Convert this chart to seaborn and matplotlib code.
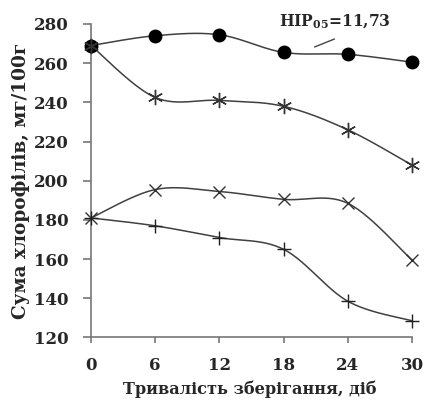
import numpy as np
import matplotlib
matplotlib.use("Agg")
import matplotlib.pyplot as plt
import seaborn as sns
import pandas as pd

days = [0, 6, 12, 18, 24, 30]
series_circle = [269, 274, 274.5, 265.5, 264.5, 260.5]
series_aster = [269, 242.5, 241, 238, 226, 208]
series_x = [181, 195.5, 194.5, 190.5, 188.5, 159.5]
series_plus = [181, 177, 171, 165, 138.5, 128.5]
yticks = [120, 140, 160, 180, 200, 220, 240, 260, 280]
xticks = days
note = "НІР"

sns.set_theme(style="white")
plt.rcParams['font.family'] = ['DejaVu Serif', 'Liberation Serif']
plt.rcParams['font.weight'] = 'bold'
plt.rcParams['mathtext.fontset'] = 'custom'
plt.rcParams['mathtext.rm'] = 'DejaVu Serif:bold'
plt.rcParams['mathtext.bf'] = 'DejaVu Serif:bold'

def smooth(x, y, n=30):
    x = np.asarray(x, float); y = np.asarray(y, float)
    px = np.concatenate([[x[0]], x, [x[-1]]])
    py = np.concatenate([[y[0]], y, [y[-1]]])
    xs, ys = [], []
    t = 0.5
    for i in range(1, len(px) - 2):
        p0 = np.array([px[i-1], py[i-1]]); p1 = np.array([px[i], py[i]])
        p2 = np.array([px[i+1], py[i+1]]); p3 = np.array([px[i+2], py[i+2]])
        c1 = p1 + (p2 - p0) * t / 3
        c2 = p2 - (p3 - p1) * t / 3
        s = np.linspace(0, 1, n)[:, None]
        b = (1-s)**3 * p1 + 3*(1-s)**2*s*c1 + 3*(1-s)*s**2*c2 + s**3*p2
        xs.extend(b[:, 0]); ys.extend(b[:, 1])
    return np.array(xs), np.array(ys)

fig = plt.figure(figsize=(4.25, 4.01), dpi=100)
ax = fig.add_axes([0.2141, 0.1584, 0.7553, 0.7818])

lc = '#404040'
specs = [
    (series_circle, dict(marker='o', markersize=9, markerfacecolor='black', markeredgecolor='black')),
    (series_aster, dict(marker=(6, 2, 0), markersize=11, markeredgecolor='#333333', markeredgewidth=1)),
    (series_x, dict(marker='x', markersize=9, markeredgecolor='#333333', markeredgewidth=1)),
    (series_plus, dict(marker='+', markersize=10, markeredgecolor='#222222', markeredgewidth=1)),
]
for vals, mk in specs:
    sx, sy = smooth(days, vals)
    sns.lineplot(x=sx, y=sy, ax=ax, color=lc, linewidth=1.1, sort=False, estimator=None)
    ax.plot(days, vals, linestyle='none', clip_on=False, zorder=5, **mk)

ax.set_xlim(0, 30)
ax.set_ylim(120, 280)
ax.set_xticks(xticks)
ax.set_yticks(yticks)
ax.set_xticklabels([str(v) for v in xticks], fontsize=12, fontweight='bold')
ax.set_yticklabels([str(v) for v in yticks], fontsize=12, fontweight='bold')
for s in ['top', 'right']:
    ax.spines[s].set_visible(False)
for s in ['left', 'bottom']:
    ax.spines[s].set_color('#777777')
    ax.spines[s].set_linewidth(1.2)
ax.tick_params(axis='x', direction='out', length=4.5, width=1.2, color='#777777', pad=9.5, bottom=True)
ax.tick_params(axis='y', direction='out', length=5.5, width=1.2, color='#777777', pad=10.5, left=True)
ax.set_xlabel('Тривалість зберігання, діб', fontsize=11.6, fontweight='bold', ha='left')
ax.set_ylabel('Сума хлорофілів, мг/100г', fontsize=13.3, fontweight='bold', labelpad=3)
ax.xaxis.set_label_coords((123 - 91) / 321, -(381 - 337.5) / 313.5)

fig.text(279/425, 1 - 21.5/401, note + r'$_{05}$=11,73', fontsize=11.2, fontweight='bold', va='center', ha='left')
ax.annotate('', xy=(312/425, 1 - 48/401), xytext=(337/425, 1 - 38/401),
            xycoords='figure fraction', textcoords='figure fraction',
            arrowprops=dict(arrowstyle='-', color='#444444', lw=1))

fig.savefig('out.png', dpi=100)
